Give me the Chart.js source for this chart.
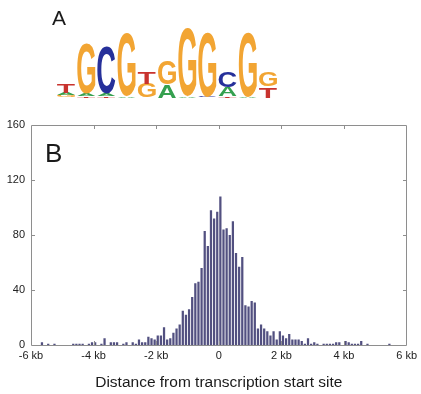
<!DOCTYPE html>
<html>
<head>
<meta charset="utf-8">
<script src="https://cdn.jsdelivr.net/npm/chart.js@4/dist/chart.umd.min.js"></script>
<style>
  html, body { margin: 0; padding: 0; background: #ffffff; }
  #wrap { width: 421px; height: 394px; position: relative; }
</style>
</head>
<body>
<div id="wrap"><canvas id="c" width="421" height="394"></canvas></div>
<script>
// ---------- data ----------
// histogram bins: 100 bp wide, from -6000 to +6000 bp
const binStart = -6000;
const binWidth = 100;
const counts = [
  0, 0, 0, 2, 0, 1, 0, 1, 0, 0,
  0, 0, 0, 1, 1, 1, 1, 0, 1, 2,
  2, 0, 1, 5, 0, 2, 2, 2, 0, 1,
  2, 0, 2, 1, 4, 2, 2, 6, 5, 4,
  7, 7, 13, 4, 5, 9, 12, 15, 25, 22,
  26, 35, 45, 46, 56, 83, 72, 98, 92, 97,
  108, 84, 85, 80, 90, 67, 57, 64, 29, 28,
  32, 31, 12, 15, 12, 10, 7, 10, 4, 10,
  7, 5, 8, 4, 4, 4, 3, 1, 5, 1,
  2, 1, 0, 1, 1, 1, 1, 2, 2, 0,
  3, 2, 1, 1, 1, 3, 0, 1, 0, 0,
  0, 0, 0, 0, 1, 0, 0, 0, 0, 0
];
const xTickValues = [-6000, -4000, -2000, 0, 2000, 4000, 6000];
const xTickLabels = ['-6 kb', '-4 kb', '-2 kb', '0', '2 kb', '4 kb', '6 kb'];
const yTickValues = [0, 40, 80, 120, 160];
const xTitle = 'Distance from transcription start site';
const panelLabels = ['A', 'B'];

// sequence logo: stacks bottom -> top, heights in bits
const logoColumns = [
  [['G', 0.06], ['A', 0.07], ['T', 0.24]],
  [['T', 0.04], ['A', 0.07], ['G', 1.43]],
  [['T', 0.03], ['A', 0.07], ['C', 1.36]],
  [['A', 0.04], ['G', 1.82]],
  [['G', 0.40], ['T', 0.34]],
  [['A', 0.37], ['G', 0.69]],
  [['A', 0.03], ['G', 1.97]],
  [['C', 0.03], ['G', 1.83]],
  [['T', 0.04], ['A', 0.25], ['C', 0.43]],
  [['A', 0.03], ['G', 1.83]],
  [['T', 0.31], ['G', 0.40]]
];
const logoColors = { G: '#f2a533', C: '#26309a', T: '#c8332e', A: '#35a04f' };

// ---------- chart ----------
Chart.defaults.font.family = '"Liberation Sans", Arial, sans-serif';
Chart.defaults.color = '#222222';

const points = counts.map((c, i) => ({ x: binStart + (i + 0.5) * binWidth, y: c }));

const decorPlugin = {
  id: 'decor',
  afterDraw(chart) {
    const ctx = chart.ctx;
    const xs = chart.scales.x, ys = chart.scales.y;
    const L = Math.round(xs.left), R = Math.round(xs.right);
    const T = Math.round(ys.top), B = Math.round(ys.bottom);
    ctx.save();
    // frame
    ctx.strokeStyle = '#8e8e8e';
    ctx.lineWidth = 1;
    ctx.beginPath();
    ctx.rect(L + 0.5, T + 0.5, R - L - 1, B - T);
    ctx.stroke();
    // inner ticks
    ctx.beginPath();
    xTickValues.slice(1, -1).forEach(v => {
      const px = Math.round(xs.getPixelForValue(v)) + 0.5;
      ctx.moveTo(px, T); ctx.lineTo(px, T + 4);
      ctx.moveTo(px, B); ctx.lineTo(px, B - 4);
    });
    yTickValues.slice(1, -1).forEach(v => {
      const py = Math.round(ys.getPixelForValue(v)) + 0.5;
      ctx.moveTo(L, py); ctx.lineTo(L + 4, py);
      ctx.moveTo(R, py); ctx.lineTo(R - 4, py);
    });
    ctx.stroke();

    // panel labels
    ctx.fillStyle = '#1a1a1a';
    ctx.textBaseline = 'alphabetic';
    ctx.textAlign = 'left';
    ctx.font = '21px "Liberation Sans", Arial, sans-serif';
    ctx.fillText(panelLabels[0], 52, 25);
    ctx.font = '26px "Liberation Sans", Arial, sans-serif';
    ctx.fillText(panelLabels[1], L + 14, T + 37);

    // sequence logo
    const base = 97.5, pxPerBit = 35, colX0 = 57, colStep = 20.2, colW = 18;
    ctx.font = 'bold 100px "Liberation Sans", Arial, sans-serif';
    logoColumns.forEach((stack, k) => {
      let y = base;
      const x0 = colX0 + k * colStep;
      stack.forEach(([letter, bits]) => {
        const h = bits * pxPerBit;
        const m = ctx.measureText(letter);
        const gw = m.actualBoundingBoxLeft + m.actualBoundingBoxRight;
        const gh = m.actualBoundingBoxAscent + m.actualBoundingBoxDescent;
        ctx.save();
        ctx.translate(x0, y);
        ctx.scale(colW / gw, h / gh);
        ctx.fillStyle = logoColors[letter];
        ctx.fillText(letter, m.actualBoundingBoxLeft, -m.actualBoundingBoxDescent);
        ctx.restore();
        y -= h;
      });
    });
    ctx.restore();
  }
};

new Chart(document.getElementById('c'), {
  type: 'bar',
  data: {
    datasets: [{
      data: points,
      backgroundColor: 'rgb(82,80,128)',
      borderWidth: 0,
      barPercentage: 0.72,
      categoryPercentage: 1.0
    }]
  },
  options: {
    responsive: false,
    animation: false,
    devicePixelRatio: 1,
    layout: { padding: { top: 125, right: 14, left: 0, bottom: 0 } },
    plugins: { legend: { display: false }, tooltip: { enabled: false } },
    scales: {
      x: {
        type: 'linear',
        min: -6000, max: 6000,
        offset: false,
        grid: { display: false, offset: false, drawTicks: false },
        border: { display: false },
        afterBuildTicks: (s) => { s.ticks = xTickValues.map(v => ({ value: v })); },
        afterFit: (s) => { s.height = 49; },
        ticks: {
          padding: 4,
          maxRotation: 0,
          autoSkip: false,
          font: { size: 11 },
          color: '#222222',
          callback: (v) => xTickLabels[xTickValues.indexOf(v)]
        },
        title: {
          display: true,
          text: xTitle,
          font: { size: 15.5 },
          color: '#1a1a1a',
          padding: { top: 0, bottom: 2 }
        }
      },
      y: {
        min: 0, max: 160,
        grid: { display: false, drawTicks: false },
        border: { display: false },
        afterBuildTicks: (s) => { s.ticks = yTickValues.map(v => ({ value: v })); },
        afterFit: (s) => { s.width = 31; },
        ticks: { padding: 6, font: { size: 11 }, color: '#222222' }
      }
    }
  },
  plugins: [decorPlugin]
});
</script>
</body>
</html>
